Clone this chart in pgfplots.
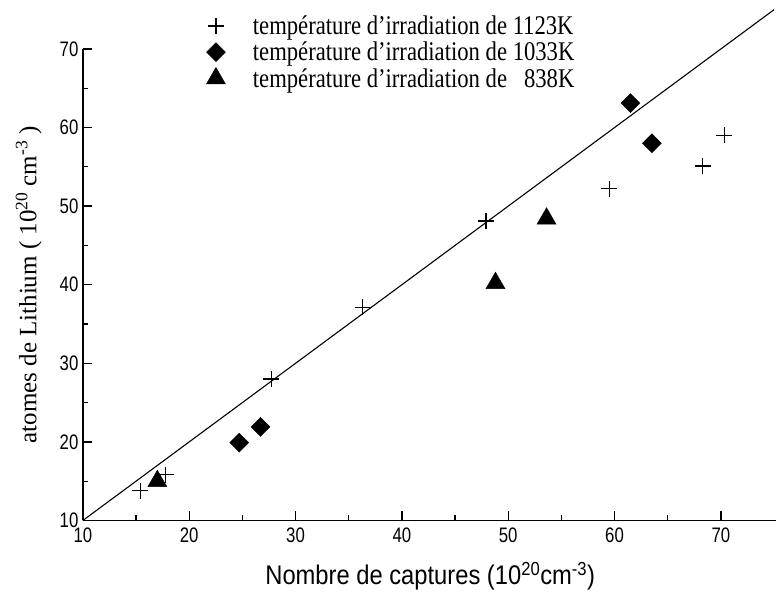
\documentclass[border=0pt]{standalone}
\usepackage{pgfplots}
\pgfplotsset{compat=1.18}
\usepackage{fontspec}
\setmainfont{Liberation Serif}
\newfontfamily\legfont[FakeStretch=0.84,Ligatures=TeX]{Liberation Serif}
\newfontfamily\labfont[FakeStretch=0.88]{Liberation Sans}
\newfontfamily\tickfont[FakeStretch=0.8]{Liberation Sans}
\pgfplotstableread{
x y
15.4 13.8
17.8 15.8
27.7 28.0
36.3 37.1
47.9 48.1
59.5 52.2
68.3 55.1
70.3 59.0
}\tabA
\pgfplotstableread{
x y
24.7 19.9
26.7 21.9
61.5 63.1
63.5 58.0
}\tabB
\pgfplotstableread{
x y
17.0 15.0
48.8 40.2
53.6 48.4
}\tabC
\begin{document}
\begin{tikzpicture}
\begin{axis}[
  scale only axis, width=694bp, height=472bp,
  xmin=10, xmax=75.2, ymin=10, ymax=70,
  axis lines*=left,
  axis line style={line width=1.6bp, black},
  xtick={10,20,...,70}, ytick={10,20,...,70},
  minor tick num=1,
  tick align=inside,
  major tick length=9bp, minor tick length=5bp,
  every tick/.style={line width=1.3bp, black},
  /pgf/number format/assume math mode=true,
  ticklabel style={font=\tickfont\fontsize{21bp}{23bp}\selectfont},
  xticklabel style={yshift=-4bp},
  yticklabel style={xshift=-1bp},
  xlabel={Nombre de captures (10\textsuperscript{20}cm\textsuperscript{-3})},
  ylabel={atomes de Lithium ( 10\textsuperscript{20} cm\textsuperscript{-3} )},
  every axis x label/.style={at={(rel axis cs:0.501,-0.118)}, anchor=center,
     font=\labfont\fontsize{27bp}{30bp}\selectfont},
  every axis y label/.style={at={(rel axis cs:-0.078,0.5)}, anchor=center, rotate=90,
     font=\fontsize{25bp}{28bp}\selectfont},
  clip=false,
  legend style={draw=none, fill=none, at={(rel axis cs:0.170,1.077)}, anchor=north west,
     font=\legfont\fontsize{27bp}{30bp}\selectfont, row sep=4bp,
     nodes={inner sep=1bp}},
  legend cell align=left,
  legend image code/.code={\path[draw=none,fill=none] (-12bp,-6bp) rectangle (36bp,6bp);
     \draw[mark repeat=2,mark phase=2,#1] plot coordinates {(-5bp,0bp) (0bp,0bp) (5bp,0bp)};},
]
\addplot[black, only marks, mark=+, mark size=8bp, line width=1.2bp] table[x=x,y=y] {\tabA};
\addlegendentry{température d'irradiation de 1123K}
\addplot[black, only marks, mark=square*, mark size=6.7bp, mark options={rotate=45}] table[x=x,y=y] {\tabB};
\addlegendentry{température d'irradiation de 1033K}
\addplot[black, only marks, mark=triangle*, mark size=11bp] table[x=x,y=y] {\tabC};
\addlegendentry{température d'irradiation de \ \ 838K}
\addplot[black, line width=1.1bp, no marks, forget plot] coordinates {(10,10) (75,75)};
\path (rel axis cs:-0.1196,-0.161) rectangle (rel axis cs:1,1.1038);
\end{axis}
\end{tikzpicture}
\end{document}
